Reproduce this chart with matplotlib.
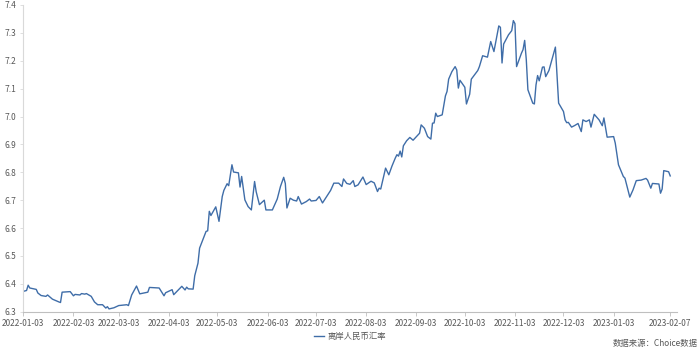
import pandas as pd
import matplotlib
matplotlib.use("Agg")
import matplotlib.pyplot as plt

plt.rcParams['font.family'] = ['Noto Sans CJK SC', 'DejaVu Sans']

# 离岸人民币汇率
dates = [
    "2022-01-03", "2022-01-05", "2022-01-06", "2022-01-07", "2022-01-11", "2022-01-12",
    "2022-01-14", "2022-01-17", "2022-01-18", "2022-01-21", "2022-01-25", "2022-01-26",
    "2022-01-27", "2022-02-01", "2022-02-03", "2022-02-04", "2022-02-07", "2022-02-08",
    "2022-02-10", "2022-02-11", "2022-02-14", "2022-02-16", "2022-02-18", "2022-02-21",
    "2022-02-23", "2022-02-24", "2022-02-25", "2022-02-28", "2022-03-03", "2022-03-08",
    "2022-03-09", "2022-03-11", "2022-03-14", "2022-03-16", "2022-03-21", "2022-03-22",
    "2022-03-28", "2022-03-31", "2022-04-01", "2022-04-05", "2022-04-06", "2022-04-11",
    "2022-04-13", "2022-04-14", "2022-04-15", "2022-04-18", "2022-04-19", "2022-04-21",
    "2022-04-22", "2022-04-24", "2022-04-26", "2022-04-27", "2022-04-28", "2022-04-29",
    "2022-05-02", "2022-05-04", "2022-05-06", "2022-05-07", "2022-05-09", "2022-05-10",
    "2022-05-12", "2022-05-13", "2022-05-16", "2022-05-17", "2022-05-18", "2022-05-20",
    "2022-05-22", "2022-05-24", "2022-05-26", "2022-05-27", "2022-05-29", "2022-06-01",
    "2022-06-02", "2022-06-06", "2022-06-09", "2022-06-11", "2022-06-13", "2022-06-14",
    "2022-06-15", "2022-06-17", "2022-06-19", "2022-06-21", "2022-06-22", "2022-06-24",
    "2022-06-27", "2022-06-29", "2022-06-30", "2022-07-03", "2022-07-05", "2022-07-07",
    "2022-07-12", "2022-07-14", "2022-07-17", "2022-07-19", "2022-07-20", "2022-07-22",
    "2022-07-24", "2022-07-26", "2022-07-27", "2022-07-29", "2022-08-01", "2022-08-03",
    "2022-08-06", "2022-08-08", "2022-08-10", "2022-08-11", "2022-08-12", "2022-08-15",
    "2022-08-17", "2022-08-19", "2022-08-21", "2022-08-22", "2022-08-23", "2022-08-24",
    "2022-08-25", "2022-08-26", "2022-08-28", "2022-08-30", "2022-09-01", "2022-09-05",
    "2022-09-06", "2022-09-08", "2022-09-10", "2022-09-12", "2022-09-13", "2022-09-14",
    "2022-09-15", "2022-09-16", "2022-09-19", "2022-09-21", "2022-09-22", "2022-09-23",
    "2022-09-25", "2022-09-27", "2022-09-28", "2022-09-29", "2022-09-30", "2022-10-03",
    "2022-10-04", "2022-10-06", "2022-10-07", "2022-10-11", "2022-10-12", "2022-10-14",
    "2022-10-17", "2022-10-19", "2022-10-21", "2022-10-24", "2022-10-25", "2022-10-26",
    "2022-10-27", "2022-10-30", "2022-11-01", "2022-11-02", "2022-11-03", "2022-11-04",
    "2022-11-07", "2022-11-08", "2022-11-09", "2022-11-10", "2022-11-11", "2022-11-14",
    "2022-11-15", "2022-11-16", "2022-11-17", "2022-11-18", "2022-11-20", "2022-11-21",
    "2022-11-22", "2022-11-24", "2022-11-28", "2022-11-30", "2022-12-03", "2022-12-04",
    "2022-12-05", "2022-12-06", "2022-12-08", "2022-12-10", "2022-12-12", "2022-12-14",
    "2022-12-15", "2022-12-17", "2022-12-19", "2022-12-20", "2022-12-22", "2022-12-25",
    "2022-12-27", "2022-12-28", "2022-12-30", "2023-01-03", "2023-01-04", "2023-01-06",
    "2023-01-09", "2023-01-10", "2023-01-13", "2023-01-15", "2023-01-17", "2023-01-20",
    "2023-01-23", "2023-01-24", "2023-01-26", "2023-01-27", "2023-01-31", "2023-02-01",
    "2023-02-02", "2023-02-03", "2023-02-06", "2023-02-07",
]
cnh = [
    6.373, 6.376, 6.395, 6.385, 6.380, 6.367,
    6.358, 6.355, 6.360, 6.345, 6.335, 6.333,
    6.370, 6.372, 6.357, 6.362, 6.360, 6.365,
    6.363, 6.365, 6.355, 6.335, 6.325, 6.325,
    6.313, 6.318, 6.310, 6.314, 6.322, 6.325,
    6.322, 6.360, 6.392, 6.364, 6.370, 6.387,
    6.385, 6.357, 6.368, 6.379, 6.361, 6.391,
    6.378, 6.388, 6.382, 6.381, 6.429, 6.474,
    6.528, 6.558, 6.588, 6.590, 6.660, 6.645,
    6.676, 6.624, 6.713, 6.735, 6.759, 6.752,
    6.827, 6.801, 6.798, 6.747, 6.785, 6.701,
    6.677, 6.665, 6.767, 6.730, 6.684, 6.700,
    6.665, 6.665, 6.704, 6.749, 6.782, 6.760,
    6.672, 6.707, 6.700, 6.697, 6.713, 6.686,
    6.695, 6.704, 6.697, 6.699, 6.713, 6.690,
    6.735, 6.761, 6.761, 6.749, 6.776, 6.760,
    6.757, 6.770, 6.749, 6.755, 6.783, 6.756,
    6.768, 6.762, 6.731, 6.743, 6.740, 6.815,
    6.791, 6.823, 6.851, 6.863, 6.858, 6.876,
    6.855, 6.895, 6.913, 6.925, 6.915, 6.940,
    6.970, 6.958, 6.928, 6.919, 6.976, 6.977,
    7.012, 7.000, 7.006, 7.074, 7.090, 7.134,
    7.161, 7.179, 7.167, 7.102, 7.130, 7.105,
    7.045, 7.080, 7.134, 7.165, 7.179, 7.218,
    7.213, 7.269, 7.233, 7.325, 7.320, 7.192,
    7.260, 7.293, 7.308, 7.344, 7.333, 7.179,
    7.227, 7.240, 7.273, 7.204, 7.096, 7.048,
    7.045, 7.113, 7.147, 7.128, 7.177, 7.178,
    7.143, 7.165, 7.249, 7.048, 7.018, 6.988,
    6.978, 6.979, 6.962, 6.968, 6.975, 6.946,
    6.988, 6.982, 6.988, 6.962, 7.008, 6.988,
    6.967, 6.995, 6.926, 6.928, 6.905, 6.827,
    6.785, 6.779, 6.711, 6.737, 6.770, 6.772,
    6.778, 6.772, 6.743, 6.760, 6.758, 6.725,
    6.740, 6.806, 6.802, 6.787,
]

tick_labels = [
    "2022-01-03", "2022-02-03", "2022-03-03", "2022-04-03", "2022-05-03",
    "2022-06-03", "2022-07-03", "2022-08-03", "2022-09-03", "2022-10-03",
    "2022-11-03", "2022-12-03", "2023-01-03", "2023-02-07",
]
y_ticks = [6.3, 6.4, 6.5, 6.6, 6.7, 6.8, 6.9, 7.0, 7.1, 7.2, 7.3, 7.4]

x = pd.to_datetime(dates)
ticks = pd.to_datetime(tick_labels)

fig = plt.figure(figsize=(7, 3.52), dpi=100)
ax = fig.add_axes([0.0333, 0.1145, 0.9334, 0.8713])

ax.plot(x, cnh, color='#3f6da8', lw=1.0, label='离岸人民币汇率')

ax.set_xlim(pd.Timestamp("2022-01-03"), pd.Timestamp("2023-02-11"))
ax.set_ylim(6.3, 7.4)
ax.set_yticks(y_ticks)
ax.set_yticklabels([f"{v:.1f}" for v in y_ticks])
ax.set_xticks(ticks)
ax.set_xticklabels(tick_labels)

for s in ['top', 'right']:
    ax.spines[s].set_visible(False)
ax.spines['left'].set_color('#d9d9d9')
ax.spines['bottom'].set_color('#bfbfbf')
ax.tick_params(axis='x', length=3, width=0.6, color='#bfbfbf',
               labelsize=6, labelcolor='#595959', pad=2)
ax.tick_params(axis='y', length=2, width=0.6, color='#d9d9d9',
               labelsize=6, labelcolor='#595959', pad=3)

fig.legend(loc='center', bbox_to_anchor=(0.5, 0.043), frameon=False,
           fontsize=6, handlelength=1.2, handletextpad=0.5,
           labelcolor='#595959')
fig.text(0.997, 0.025, '数据来源：Choice数据', ha='right', va='center',
         fontsize=6, color='#595959')

fig.savefig('out.png', dpi=100)
